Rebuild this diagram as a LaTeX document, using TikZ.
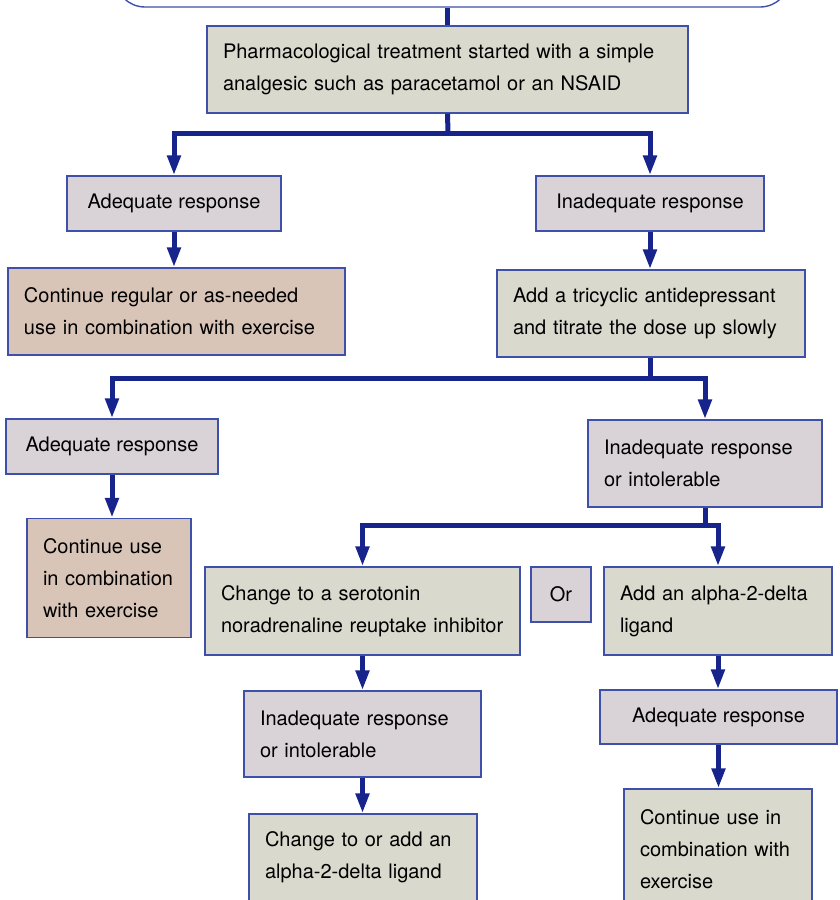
\documentclass[tikz,border=0pt]{standalone}
\usepackage{fontspec}
\setmainfont{TeX Gyre Heros}
\usetikzlibrary{arrows.meta}
\definecolor{boxblue}{RGB}{62,80,170}
\definecolor{flowblue}{RGB}{22,36,140}
\definecolor{boxgrey}{RGB}{217,217,206}
\definecolor{boxlilac}{RGB}{217,211,216}
\definecolor{boxtan}{RGB}{216,197,184}
\hyphenpenalty=10000
\exhyphenpenalty=10000
\tikzset{
	box/.style={draw=boxblue, line width=0.7pt, rectangle, inner xsep=8pt, inner ysep=0pt,
			font=\fontsize{10}{16}\selectfont},
	grey/.style={box, fill=boxgrey},
	lilac/.style={box, fill=boxlilac},
	tan/.style={box, fill=boxtan},
	flow/.style={draw=flowblue, line width=2.5pt},
	arr/.style={flow, -{Triangle[length=10pt,width=6.5pt]}}
}

\begin{document}
\begin{tikzpicture}[x=0.5pt,y=-0.5pt]
		\useasboundingbox (0,0) rectangle (840,900);
		\node[box, fill=white, rounded corners=15pt, minimum width=337.5pt, minimum height=60pt] (top) at (452.5,-53) {};
		\node[grey, text width=224.5pt, minimum height=43.5pt, align=left] (pharm) at (447.5,69.5)
			{Pharmacological treatment started with a simple\\analgesic such as paracetamol or an NSAID};
		\node[lilac, minimum width=107pt, minimum height=27.5pt] (adeqa) at (174,203.5) {Adequate response};
		\node[lilac, minimum width=114pt, minimum height=27.5pt] (inadeqa) at (650,203.5) {Inadequate response};
		\node[tan, text width=152.5pt, minimum height=43.5pt, align=left] (conta) at (176.5,311.5)
			{Continue regular or as-needed\\use in combination with exercise};
		\node[grey, text width=138pt, minimum height=43.5pt, align=left] (tca) at (651,313.5)
			{Add a tricyclic antidepressant\\and titrate the dose up slowly};
		\node[lilac, minimum width=106pt, minimum height=27.5pt] (adeqb) at (112,446.5) {Adequate response};
		\node[lilac, text width=101pt, minimum height=43.5pt, align=left] (inadeqb) at (705,463.5)
			{Inadequate response\\or intolerable};
		\node[tan, text width=66pt, minimum height=59.5pt, align=left] (contb) at (109,578)
			{Continue use\\in combination\\with exercise};
		\node[grey, text width=141.5pt, minimum height=44pt, align=left] (snri) at (362.5,611)
			{Change to a serotonin\\noradrenaline reuptake inhibitor};
		\node[lilac, minimum width=30pt, minimum height=27.5pt, inner xsep=0pt] (or) at (561,594.5) {Or};
		\node[grey, text width=98pt, minimum height=44pt, align=left] (alpha) at (718,611)
			{Add an alpha-2-delta\\ligand};
		\node[lilac, text width=102.5pt, minimum height=43pt, align=left] (inadeqc) at (362.5,734)
			{Inadequate response\\or intolerable};
		\node[grey, text width=98pt, minimum height=43.5pt, align=left] (change) at (363,857.5)
			{Change to or add an\\alpha-2-delta ligand};
		\node[lilac, minimum width=118.5pt, minimum height=27pt] (adeqc) at (718.5,717) {Adequate response};
		\node[grey, text width=78pt, minimum height=60pt, align=left] (contc) at (718,849)
			{Continue use in\\combination with\\exercise};

		\coordinate (ba) at (448,133);
		\coordinate (bb) at (650,378);
		\coordinate (bc) at (705,525);

		\draw[flow] (pharm.north |- top.south) -- (pharm.north);
		\draw[flow] (pharm.south) -- (ba);
		\draw[arr] (ba) -| (adeqa.north);
		\draw[arr] (ba) -| (inadeqa.north);
		\draw[arr] (adeqa.south) -- (adeqa.south |- conta.north);
		\draw[arr] (inadeqa.south) -- (inadeqa.south |- tca.north);
		\draw[flow] (tca.south -| bb) -- (bb);
		\draw[arr] (bb) -| (adeqb.north);
		\draw[arr] (bb) -| (inadeqb.north);
		\draw[arr] (adeqb.south) -- (adeqb.south |- contb.north);
		\draw[flow] (inadeqb.south) -- (bc);
		\draw[arr] (bc) -| (snri.north);
		\draw[arr] (bc) -| (alpha.north);
		\draw[arr] (snri.south) -- (snri.south |- inadeqc.north);
		\draw[arr] (inadeqc.south) -- (inadeqc.south |- change.north);
		\draw[arr] (alpha.south) -- (alpha.south |- adeqc.north);
		\draw[arr] (adeqc.south) -- (adeqc.south |- contc.north);
	\end{tikzpicture}
\end{document}
